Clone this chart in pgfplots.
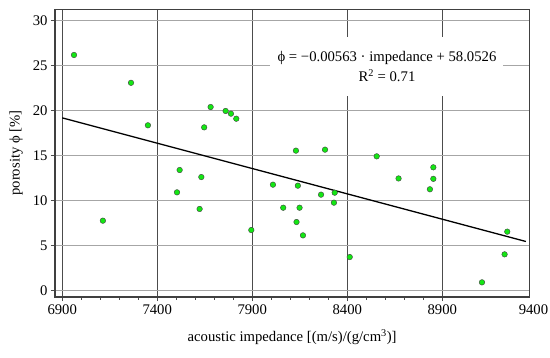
\documentclass[border=0pt]{standalone}
\usepackage{fontspec}
\setmainfont{Liberation Serif}
\usepackage{pgfplots}
\pgfplotsset{compat=1.18}
\definecolor{ptgreen}{RGB}{20,230,20}
\begin{document}
\begin{tikzpicture}
\begin{axis}[
  scale only axis, width=474.3pt, height=288pt,
  xmin=6862, xmax=9358, ymin=-0.7, ymax=31.3,
  xtick={6900,7400,7900,8400,8900}, ytick={0,5,...,30},
  minor x tick num=4,
  xmajorgrids, ymajorgrids,
  x grid style={draw=black!70, line width=0.6pt},
  y grid style={draw=black!35, line width=1.3pt},
  tick align=outside, tick pos=left,
  major tick length=4pt, minor tick length=2.5pt,
  every tick/.style={draw=black!70, line width=0.5pt},
  axis line style={draw=black!75, line width=0.6pt},
  /pgf/number format/assume math mode=true,
  /pgf/number format/1000 sep={},
  tick label style={font=\fontsize{14.7}{16}\selectfont},
  label style={font=\fontsize{14.7}{16}\selectfont},
  xlabel={acoustic impedance [(m/s)/(g/cm\textsuperscript{3})]},
  ylabel={porosity ϕ [\%]},
  xlabel style={yshift=-8pt},
  ylabel style={yshift=3pt},
  clip=false,
]
\addplot[only marks, mark=*, mark size=2.8pt, mark options={fill=ptgreen, draw=black!75, line width=0.4pt}] coordinates {
(6962,26.19) (7262,23.10) (7351,18.38) (7681,20.41) (7760,19.97) (7788,19.67)
(7816,19.11) (7647,18.15) (7518,13.41) (7632,12.63) (7504,10.93) (7623,9.08)
(7114,7.78) (7895,6.74) (8009,11.78) (8130,15.56) (8283,15.67) (8555,14.93)
(8853,13.71) (8853,12.43) (8670,12.47) (8140,11.67) (8262,10.67) (8334,10.89)
(8330,9.78) (8063,9.22) (8149,9.22) (8133,7.63) (8167,6.15) (8413,3.74)
(8835,11.27) (9242,6.56) (9228,4.04) (9109,0.93)
};
\addplot[black, line width=1.3pt] coordinates {(6900,19.2056) (9340,5.4686)};
\draw[black!75, line width=1.6pt] (rel axis cs:0,1) -- (rel axis cs:0,0) -- (rel axis cs:1,0);
\node[fill=white, inner sep=0pt, minimum width=233pt, minimum height=59pt, align=center,
  font=\fontsize{14.7}{20}\selectfont] at (axis cs:8609,24.86)
  {ϕ = −0.00563 · impedance + 58.0526\\R\textsuperscript{2} = 0.71};
\node[anchor=north, font=\fontsize{14.7}{16}\selectfont, inner sep=3.33pt] at ([yshift=-4pt]axis cs:9380,-0.7) {9400};
\end{axis}
\pgfresetboundingbox
\useasboundingbox (-55pt,-60pt) rectangle (495pt,297pt);
\end{tikzpicture}
\end{document}
